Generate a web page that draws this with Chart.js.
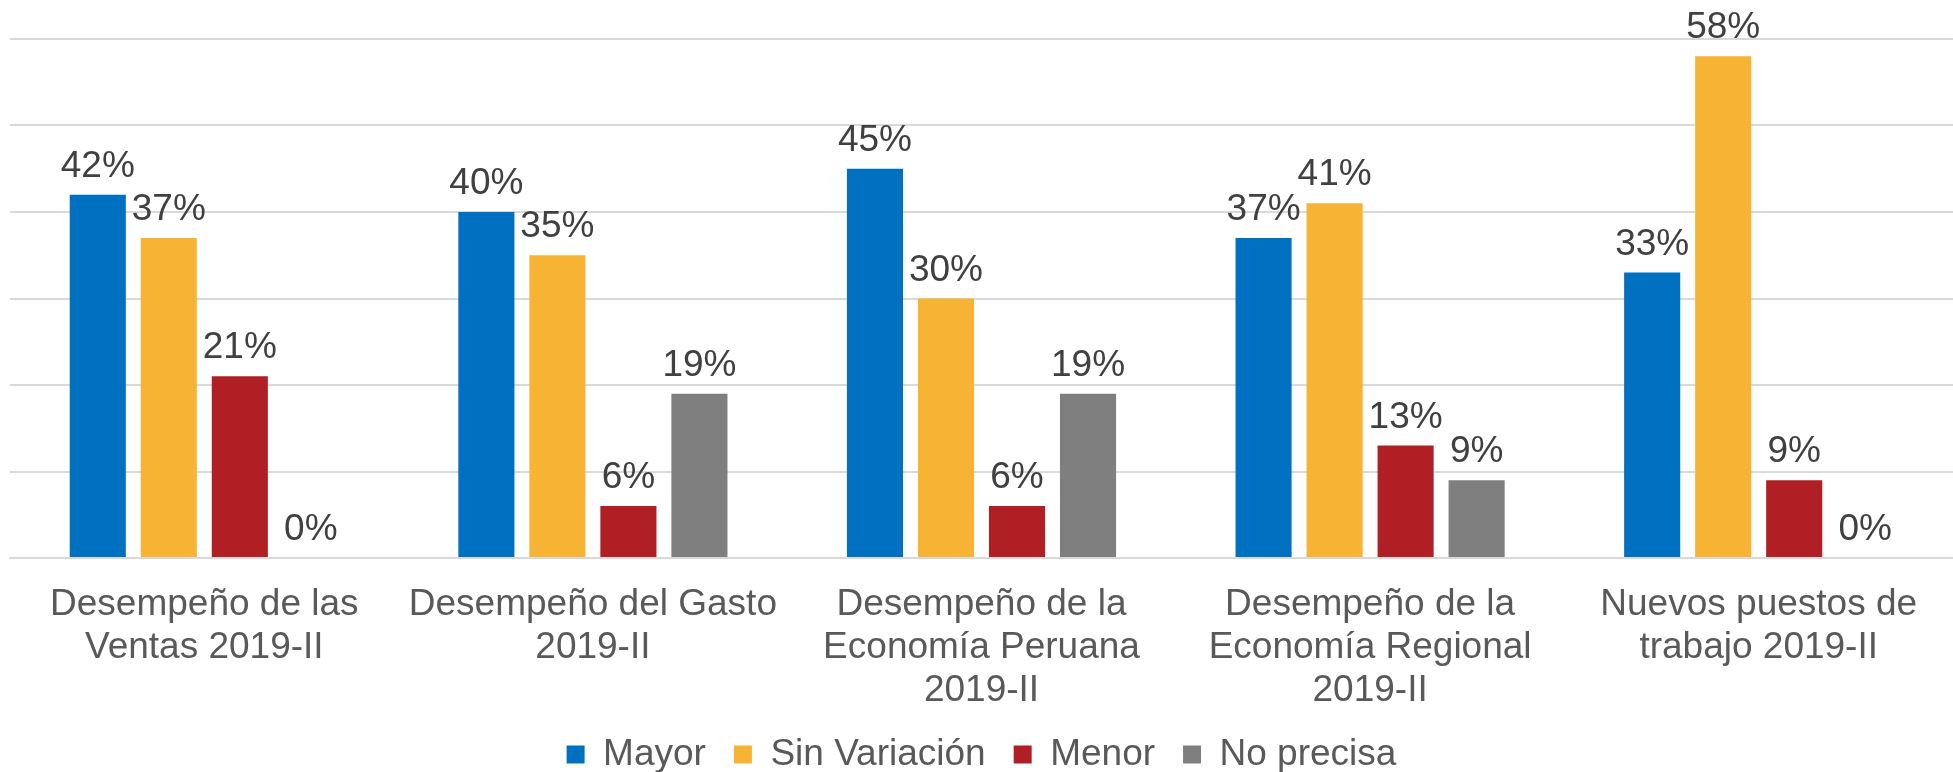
<!DOCTYPE html>
<html>
<head>
<meta charset="utf-8">
<script src="https://cdn.jsdelivr.net/npm/chart.js@4/dist/chart.umd.min.js"></script>
<style>
  html, body { margin: 0; padding: 0; background: #fff; }
  #wrap { width: 1953px; height: 772px; }
</style>
</head>
<body>
<div id="wrap"><canvas id="myChart"></canvas></div>
<script>
// categories (multi-line labels as in the original)
const categories = [
  ['Desempeño de las', 'Ventas 2019-II'],
  ['Desempeño del Gasto', '2019-II'],
  ['Desempeño de la', 'Economía Peruana', '2019-II'],
  ['Desempeño de la', 'Economía Regional', '2019-II'],
  ['Nuevos puestos de', 'trabajo 2019-II']
];

// series values, in %
const mayor = [42, 40, 45, 37, 33];
const sinVariacion = [37, 35, 30, 41, 58];
const menor = [21, 6, 6, 13, 9];
const noPrecisa = [0, 19, 19, 9, 0];

const seriesNames = ['Mayor', 'Sin Variación', 'Menor', 'No precisa'];
const seriesColors = ['#0070C0', '#F7B334', '#B01F24', '#7F7F7F'];

const FONT = '"Liberation Sans", Arial, sans-serif';

// draws the "42%" style labels above each bar
const valueLabels = {
  id: 'valueLabels',
  afterDatasetsDraw(chart) {
    const ctx = chart.ctx;
    ctx.save();
    ctx.font = '37px ' + FONT;
    ctx.fillStyle = '#404040';
    ctx.textAlign = 'center';
    ctx.textBaseline = 'alphabetic';
    chart.data.datasets.forEach((ds, i) => {
      chart.getDatasetMeta(i).data.forEach((bar, j) => {
        ctx.fillText(ds.data[j] + '%', bar.x, bar.y - 18);
      });
    });
    ctx.restore();
  }
};

const ctx = document.getElementById('myChart');

new Chart(ctx, {
  type: 'bar',
  data: {
    labels: categories,
    datasets: [mayor, sinVariacion, menor, noPrecisa].map((vals, i) => ({
      label: seriesNames[i],
      data: vals,
      backgroundColor: seriesColors[i],
      borderWidth: 0,
      categoryPercentage: 0.731,
      barPercentage: 0.79
    }))
  },
  options: {
    responsive: true,
    maintainAspectRatio: false,
    animation: false,
    layout: { padding: { top: 39, left: 10, right: 0, bottom: -11 } },
    plugins: {
      tooltip: { enabled: false },
      legend: {
        position: 'bottom',
        labels: {
          boxWidth: 18,
          boxHeight: 18,
          padding: 28,
          color: '#595959',
          font: { family: FONT, size: 37 }
        }
      }
    },
    scales: {
      x: {
        grid: { display: false, drawTicks: false },
        border: { display: true, color: '#D9D9D9', width: 2 },
        ticks: {
          color: '#595959',
          font: { family: FONT, size: 37, lineHeight: 1.15 },
          padding: 26,
          maxRotation: 0,
          autoSkip: false
        },
        afterFit: (scale) => { scale.height = 150; }
      },
      y: {
        min: 0,
        max: 60,
        ticks: { display: false, stepSize: 10 },
        border: { display: false },
        grid: { color: '#D9D9D9', lineWidth: 2, drawTicks: false }
      }
    }
  },
  plugins: [valueLabels]
});
</script>
</body>
</html>
